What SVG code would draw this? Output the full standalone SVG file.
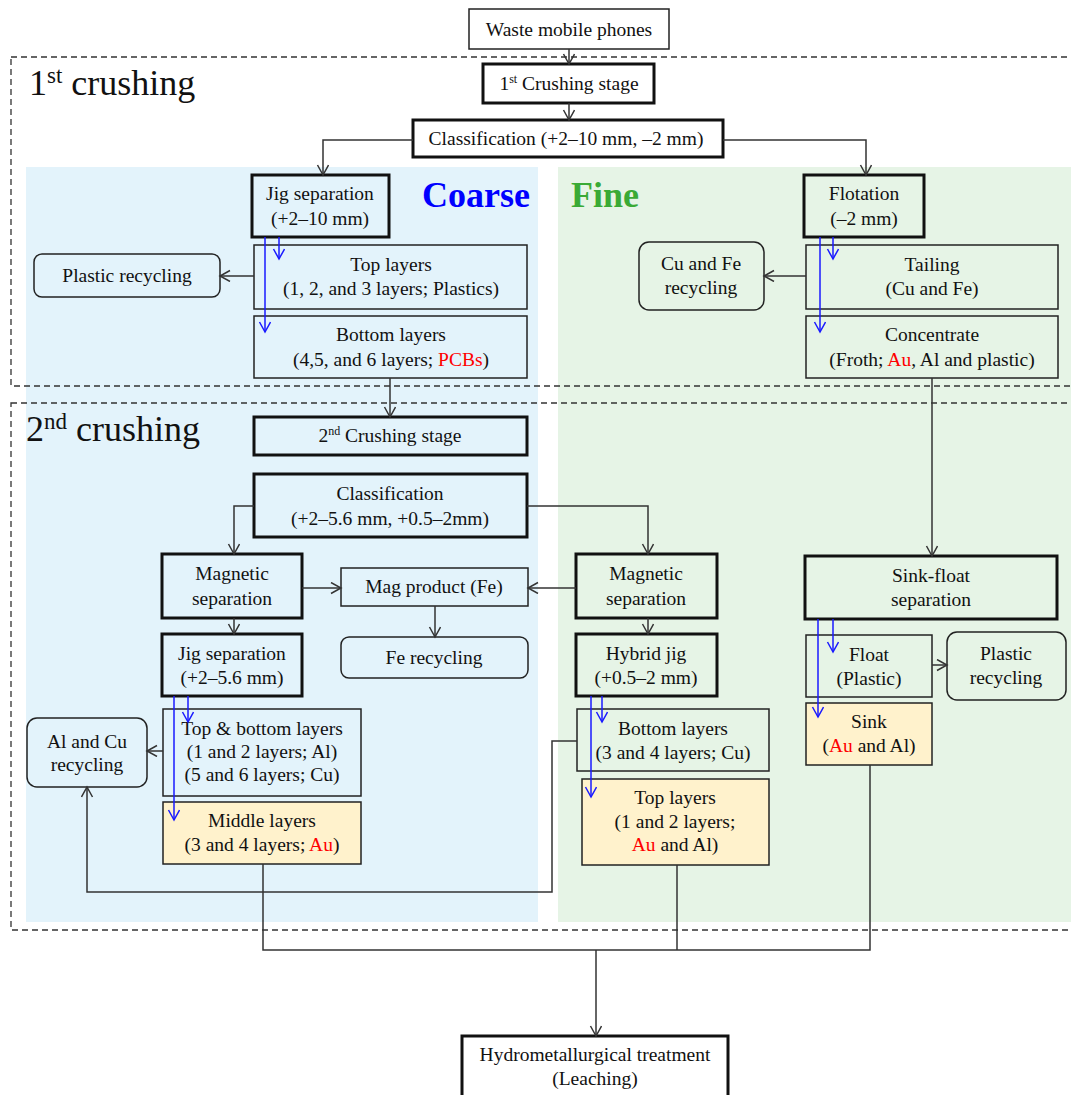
<svg xmlns="http://www.w3.org/2000/svg" width="1071" height="1095" viewBox="0 0 1071 1095">
<defs>
<style>
text{font-family:"Liberation Serif","Times New Roman",serif;font-size:19.5px;fill:#111;text-anchor:middle}
.lbl{font-size:36px;text-anchor:start}
.big{font-size:36px;font-weight:bold;text-anchor:start}
.b{fill:none;stroke:#111;stroke-width:3}
.bw{fill:#fff;stroke:#111;stroke-width:3}
.t{fill:none;stroke:#222;stroke-width:1.5}
.tw{fill:#fff;stroke:#222;stroke-width:1.5}
.y{fill:#fff2cc;stroke:#222;stroke-width:1.5}
.r{fill:#f00}
.dash{fill:none;stroke:#333;stroke-width:1.3;stroke-dasharray:6 4}
.c{fill:none;stroke:#333;stroke-width:1.5}
.ca{fill:none;stroke:#333;stroke-width:1.5;marker-end:url(#ah)}
.bl{fill:none;stroke:#1a1aff;stroke-width:1.5;marker-end:url(#bh)}
</style>
<marker id="ah" markerWidth="14" markerHeight="14" refX="11" refY="6" orient="auto" markerUnits="userSpaceOnUse"><path d="M1,0.5 L11,6 L1,11.5" fill="none" stroke="#333" stroke-width="1.5"/></marker>
<marker id="bh" markerWidth="14" markerHeight="14" refX="11" refY="6" orient="auto" markerUnits="userSpaceOnUse"><path d="M1,0.5 L11,6 L1,11.5" fill="none" stroke="#1a1aff" stroke-width="1.5"/></marker>
</defs>

<g id="panels">
<rect x="26" y="167" width="512" height="755" fill="#e3f3fb"/>
<rect x="558" y="167" width="513" height="755" fill="#e6f4e6"/>
<rect class="dash" x="11" y="57" width="1075" height="329"/>
<rect class="dash" x="11" y="403" width="1075" height="527"/>
</g>

<g id="labels">
<text class="lbl" x="29" y="95">1<tspan font-size="23" dy="-12">st</tspan><tspan dy="12"> crushing</tspan></text>
<text class="lbl" x="26" y="441">2<tspan font-size="23" dy="-12">nd</tspan><tspan dy="12"> crushing</tspan></text>
<text class="big" x="422" y="207" style="fill:#0000ff">Coarse</text>
<text class="big" x="571" y="207" style="fill:#3aaa35">Fine</text>
</g>

<g id="n-waste"><rect class="tw" x="469" y="9" width="200" height="40"/><text x="569" y="36">Waste mobile phones</text></g>
<g id="n-crush1"><rect class="bw" x="483" y="64" width="171" height="39"/><text x="569" y="90">1<tspan font-size="12" dy="-7">st</tspan><tspan dy="7"> Crushing stage</tspan></text></g>
<g id="n-class1"><rect class="bw" x="413" y="120" width="310" height="37"/><text x="566" y="145">Classification (+2–10 mm, –2 mm)</text></g>

<g id="n-jig1"><rect class="b" x="252" y="175" width="137" height="62"/><text x="320" y="200">Jig separation</text><text x="320" y="225">(+2–10 mm)</text></g>
<g id="n-top1"><rect class="t" x="254" y="245" width="273" height="64"/><text x="391" y="271">Top layers</text><text x="391" y="295">(1, 2, and 3 layers; Plastics)</text></g>
<g id="n-bot1"><rect class="t" x="254" y="316" width="273" height="62"/><text x="391" y="341">Bottom layers</text><text x="391" y="366">(4,5, and 6 layers; <tspan class="r">PCBs</tspan>)</text></g>
<g id="n-plastic1"><rect class="t" x="34" y="254" width="186" height="43" rx="8"/><text x="127" y="282">Plastic recycling</text></g>

<g id="n-flot"><rect class="b" x="804" y="175" width="120" height="62"/><text x="864" y="200">Flotation</text><text x="864" y="225">(–2 mm)</text></g>
<g id="n-tail"><rect class="t" x="806" y="245" width="252" height="64"/><text x="932" y="271">Tailing</text><text x="932" y="295">(Cu and Fe)</text></g>
<g id="n-conc"><rect class="t" x="806" y="316" width="252" height="62"/><text x="932" y="341">Concentrate</text><text x="932" y="366">(Froth; <tspan class="r">Au</tspan>, Al and plastic)</text></g>
<g id="n-cufe"><rect class="t" x="639" y="242" width="125" height="68" rx="10"/><text x="701" y="270">Cu and Fe</text><text x="701" y="294">recycling</text></g>

<g id="n-crush2"><rect class="b" x="254" y="417" width="273" height="38"/><text x="390" y="442">2<tspan font-size="12" dy="-7">nd</tspan><tspan dy="7"> Crushing stage</tspan></text></g>
<g id="n-class2"><rect class="b" x="254" y="474" width="273" height="63"/><text x="390" y="500">Classification</text><text x="390" y="525">(+2–5.6 mm, +0.5–2mm)</text></g>

<g id="n-mag1"><rect class="b" x="162" y="554" width="140" height="64"/><text x="232" y="580">Magnetic</text><text x="232" y="605">separation</text></g>
<g id="n-magprod"><rect class="t" x="341" y="568" width="187" height="38"/><text x="434" y="593">Mag product (Fe)</text></g>
<g id="n-fe"><rect class="t" x="341" y="637" width="187" height="41" rx="8"/><text x="434" y="664">Fe recycling</text></g>
<g id="n-jig2"><rect class="b" x="162" y="634" width="140" height="62"/><text x="232" y="660">Jig separation</text><text x="232" y="684">(+2–5.6 mm)</text></g>
<g id="n-topbot"><rect class="t" x="163" y="709" width="198" height="87"/><text x="262" y="735">Top &amp; bottom layers</text><text x="262" y="758">(1 and 2 layers; Al)</text><text x="262" y="781">(5 and 6 layers; Cu)</text></g>
<g id="n-mid"><rect class="y" x="163" y="802" width="198" height="62"/><text x="262" y="827">Middle layers</text><text x="262" y="851">(3 and 4 layers; <tspan class="r">Au</tspan>)</text></g>
<g id="n-alcu"><rect class="t" x="27" y="718" width="120" height="69" rx="10"/><text x="87" y="748">Al and Cu</text><text x="87" y="771">recycling</text></g>

<g id="n-mag2"><rect class="b" x="576" y="554" width="141" height="64"/><text x="646" y="580">Magnetic</text><text x="646" y="605">separation</text></g>
<g id="n-hybrid"><rect class="b" x="576" y="634" width="141" height="62"/><text x="646" y="660">Hybrid jig</text><text x="646" y="684">(+0.5–2 mm)</text></g>
<g id="n-bot2"><rect class="t" x="577" y="709" width="192" height="62"/><text x="673" y="735">Bottom layers</text><text x="673" y="759">(3 and 4 layers; Cu)</text></g>
<g id="n-top2"><rect class="y" x="582" y="779" width="187" height="86"/><text x="675" y="804">Top layers</text><text x="675" y="828">(1 and 2 layers;</text><text x="675" y="851"><tspan class="r">Au</tspan> and Al)</text></g>

<g id="n-sinkfloat"><rect class="b" x="805" y="556" width="252" height="63"/><text x="931" y="582">Sink-float</text><text x="931" y="606">separation</text></g>
<g id="n-float"><rect class="t" x="806" y="635" width="126" height="62"/><text x="869" y="661">Float</text><text x="869" y="685">(Plastic)</text></g>
<g id="n-plastic2"><rect class="t" x="947" y="632" width="119" height="68" rx="10"/><text x="1006" y="660">Plastic</text><text x="1006" y="684">recycling</text></g>
<g id="n-sink"><rect class="y" x="806" y="703" width="126" height="62"/><text x="869" y="728">Sink</text><text x="869" y="752">(<tspan class="r">Au</tspan> and Al)</text></g>

<g id="n-hydro"><rect class="bw" x="462" y="1036" width="266" height="70"/><text x="595" y="1061">Hydrometallurgical treatment</text><text x="595" y="1085">(Leaching)</text></g>

<g id="connectors">
<path class="ca" d="M569,49 V64"/>
<path class="ca" d="M569,103 V120"/>
<path class="ca" d="M413,140 H323 V175"/>
<path class="ca" d="M723,140 H866 V175"/>
<path class="ca" d="M254,276 H220"/>
<path class="ca" d="M806,276 H764"/>
<path class="ca" d="M390,378 V417"/>
<path class="ca" d="M932,378 V556"/>
<path class="ca" d="M254,506 H234 V554"/>
<path class="ca" d="M527,506 H648 V554"/>
<path class="ca" d="M302,588 H341"/>
<path class="ca" d="M576,588 H528"/>
<path class="ca" d="M435,606 V637"/>
<path class="ca" d="M234,618 V634"/>
<path class="ca" d="M648,618 V634"/>
<path class="ca" d="M163,751 H147"/>
<path class="ca" d="M577,741 H552 V892 H87 V787"/>
<path class="ca" d="M932,665 H947"/>
<path class="c" d="M263,864 V950 H870 V765"/>
<path class="c" d="M677,865 V950"/>
<path class="ca" d="M596,950 V1036"/>
<path class="bl" d="M265,237 V332"/>
<path class="bl" d="M279,237 V259"/>
<path class="bl" d="M820,237 V332"/>
<path class="bl" d="M833,237 V259"/>
<path class="bl" d="M174,696 V820"/>
<path class="bl" d="M188,696 V722"/>
<path class="bl" d="M591,696 V797"/>
<path class="bl" d="M602,696 V722"/>
<path class="bl" d="M818,619 V717"/>
<path class="bl" d="M833,619 V652"/>
</g>
</svg>
